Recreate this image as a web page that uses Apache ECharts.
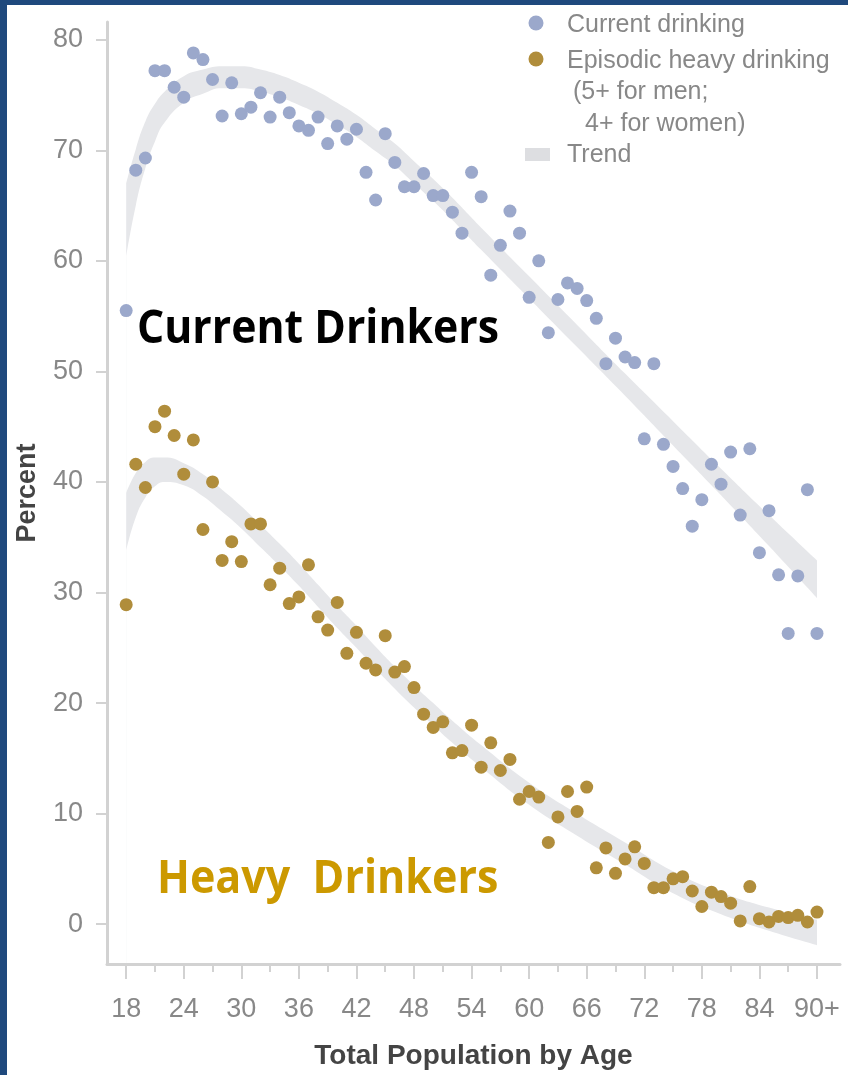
<!DOCTYPE html>
<html>
<head>
<meta charset="utf-8">
<title>Drinking by age</title>
<script src="https://cdn.jsdelivr.net/npm/echarts@6/dist/echarts.min.js"></script>
<style>
html, body { margin: 0; padding: 0; background: #fff; }
#chart { width: 848px; height: 1075px; }
</style>
</head>
<body>
<div id="chart"></div>
<script>
// ages 18 .. 90+ (90 shown as "90+")
var ages = [18,19,20,21,22,23,24,25,26,27,28,29,30,31,32,33,34,35,36,37,38,39,40,41,42,43,44,45,46,47,48,49,50,51,52,53,54,
    55,56,57,58,59,60,61,62,63,64,65,66,67,68,69,70,71,72,73,74,75,76,77,78,79,80,81,82,83,84,85,86,87,88,89,90];

// current drinking, percent
var currentDrinking = [55.5,68.2,69.3,77.2,77.2,75.7,74.8,78.8,78.2,76.4,73.1,76.1,73.3,73.9,75.2,73.0,74.8,73.4,72.2,71.8,
    73.0,70.6,72.2,71.0,71.9,68.0,65.5,71.5,68.9,66.7,66.7,67.9,65.9,65.9,64.4,62.5,68.0,65.8,58.7,61.4,64.5,62.5,56.7,60.0,
    53.5,56.5,58.0,57.5,56.4,54.8,50.7,53.0,51.3,50.8,43.9,50.7,43.4,41.4,39.4,36.0,38.4,41.6,39.8,42.7,37.0,43.0,33.6,37.4,
    31.6,26.3,31.5,39.3,26.3];

// episodic heavy drinking, percent
var heavyDrinking = [28.9,41.6,39.5,45.0,46.4,44.2,40.7,43.8,35.7,40.0,32.9,34.6,32.8,36.2,36.2,30.7,32.2,29.0,29.6,32.5,
    27.8,26.6,29.1,24.5,26.4,23.6,23.0,26.1,22.8,23.3,21.4,19.0,17.8,18.3,15.5,15.7,18.0,14.2,16.4,13.9,14.9,11.3,12.0,11.5,
    7.4,9.7,12.0,10.2,12.4,5.1,6.9,4.6,5.9,7.0,5.5,3.3,3.3,4.1,4.3,3.0,1.6,2.9,2.5,1.9,0.3,3.4,0.5,0.2,0.7,0.6,0.8,0.2,1.1];

// trend bands (lower / upper edge)
var trendAges = [18,19,20,21,22,24,26,28,30,32,34,36,38,40,42,44,46,48,50,52,55,60,65,70,75,80,85,90];
var currentTrendLow  = [60.4,65.0,68.4,70.8,72.5,74.3,75.1,75.6,75.6,75.3,74.8,74.1,73.3,72.3,71.2,69.9,68.6,67.0,65.4,63.7,
    61.0,56.6,52.2,47.8,43.3,38.8,34.2,29.5];
var currentTrendHigh = [67.0,70.1,72.6,74.2,75.3,76.7,77.3,77.6,77.6,77.3,76.8,76.1,75.3,74.3,73.2,71.9,70.6,69.0,67.4,65.7,
    63.0,58.6,54.2,49.8,45.5,41.2,37.0,32.9];
var heavyTrendLow  = [33.8,36.8,38.6,39.6,40.0,39.7,38.7,37.3,35.8,34.1,32.4,30.6,28.7,26.8,25.0,23.1,21.3,19.6,18.0,16.4,
    14.2,10.8,8.0,5.4,2.8,0.9,-0.6,-1.9];
var heavyTrendHigh = [39.0,40.8,41.8,42.2,42.2,41.7,40.7,39.3,37.8,36.1,34.4,32.6,30.7,28.8,27.0,25.1,23.3,21.6,20.0,18.4,
    16.2,12.8,10.0,7.4,4.8,2.9,1.5,0.4];

var xLabelValues = [18,24,30,36,42,48,54,60,66,72,78,84,90];
var xMinorTicks = [21,27,33,39,45,51,57,63,69,75,81,87];
var yLabelValues = [0,10,20,30,40,50,60,70,80];

var blue = '#9ba8cb', gold = '#b08d3b', band = '#e6e7ea';
var axisGray = '#d2d2d2', textGray = '#888';
var smallFont = 'Liberation Sans, Arial, sans-serif';

function pairs(xs, ys) {
    return xs.map(function (x, i) { return [x, ys[i]]; });
}
// band = grey area under the upper edge, then a white area under the lower edge
function bandSeries(lo, hi) {
    var common = { type: 'line', smooth: true, symbol: 'none', silent: true, z: 1,
                   lineStyle: { width: 0, opacity: 0 } };
    return [
        Object.assign({ data: pairs(trendAges, hi), areaStyle: { color: band, opacity: 1, origin: 'start' } }, common),
        Object.assign({ data: pairs(trendAges, lo), areaStyle: { color: '#fff', opacity: 1, origin: 'start' } }, common)
    ];
}

var chart = echarts.init(document.getElementById('chart'));
var legendText = { fontFamily: smallFont, fontSize: 25, fill: textGray, verticalAlign: 'middle' };

chart.setOption({
    animation: false,
    backgroundColor: '#fff',
    grid: { left: 107, right: 8, top: 22, bottom: 106 },
    xAxis: [{
        type: 'value', min: 16, max: 92.4, position: 'bottom', z: 10,
        name: 'Total Population by Age', nameLocation: 'middle', nameGap: 78,
        nameTextStyle: { fontFamily: smallFont, fontWeight: 'bold', fontSize: 28, color: '#444' },
        splitLine: { show: false },
        axisLine: { onZero: false, lineStyle: { color: axisGray, width: 3 } },
        axisTick: { customValues: xLabelValues, length: 15, lineStyle: { color: axisGray, width: 2 } },
        axisLabel: {
            customValues: xLabelValues, margin: 32, color: textGray, fontSize: 27, fontFamily: smallFont,
            formatter: function (v) { return v === 90 ? '90+' : String(v); }
        }
    }, {
        type: 'value', min: 16, max: 92.4, position: 'bottom', offset: 0, z: 10,
        splitLine: { show: false }, axisLine: { show: false, onZero: false }, axisLabel: { show: false },
        axisTick: { customValues: xMinorTicks, length: 8, lineStyle: { color: axisGray, width: 2 } }
    }],
    yAxis: {
        type: 'value', min: -3.6, max: 81.6, z: 10,
        name: 'Percent', nameLocation: 'middle', nameGap: 66, nameRotate: 90,
        nameTextStyle: { fontFamily: smallFont, fontWeight: 'bold', fontSize: 27, color: '#444' },
        splitLine: { show: false },
        axisLine: { show: true, onZero: false, lineStyle: { color: axisGray, width: 3 } },
        axisTick: { show: true, customValues: yLabelValues, length: 11, lineStyle: { color: axisGray, width: 2 } },
        axisLabel: { customValues: yLabelValues, margin: 24, color: textGray, fontSize: 27, fontFamily: smallFont }
    },
    series: bandSeries(currentTrendLow, currentTrendHigh)
        .concat(bandSeries(heavyTrendLow, heavyTrendHigh))
        .concat([{
            name: 'Current drinking', type: 'scatter', data: pairs(ages, currentDrinking),
            symbolSize: 13, itemStyle: { color: blue, opacity: 1 }, z: 3
        }, {
            name: 'Episodic heavy drinking', type: 'scatter', data: pairs(ages, heavyDrinking),
            symbolSize: 13, itemStyle: { color: gold, opacity: 1 }, z: 3
        }]),
    graphic: [
        // frame
        { type: 'rect', shape: { x: 0, y: 0, width: 848, height: 5 }, style: { fill: '#1f497d' }, z: 100 },
        { type: 'rect', shape: { x: 0, y: 0, width: 7, height: 1075 }, style: { fill: '#1f497d' }, z: 100 },
        // legend
        { type: 'circle', shape: { cx: 536, cy: 23, r: 7.5 }, style: { fill: blue } },
        { type: 'text', x: 567, y: 25, style: Object.assign({ text: 'Current drinking' }, legendText) },
        { type: 'circle', shape: { cx: 536, cy: 59, r: 7.5 }, style: { fill: gold } },
        { type: 'text', x: 567, y: 61, style: Object.assign({ text: 'Episodic heavy drinking' }, legendText) },
        { type: 'text', x: 573, y: 92, style: Object.assign({ text: '(5+ for men;' }, legendText) },
        { type: 'text', x: 585, y: 124, style: Object.assign({ text: '4+ for women)' }, legendText) },
        { type: 'rect', shape: { x: 525, y: 148, width: 25, height: 13 }, style: { fill: '#dddee1' } },
        { type: 'text', x: 567, y: 155, style: Object.assign({ text: 'Trend' }, legendText) },
        // annotations
        { type: 'text', x: 137, y: 330, scaleX: 0.91, z: 50,
          style: { text: 'Current Drinkers', fontFamily: 'Open Sans, Noto Sans, sans-serif', fontWeight: 'bold',
                   fontSize: 47, fill: '#000', verticalAlign: 'middle' } },
        { type: 'text', x: 157, y: 880, scaleX: 0.915, z: 50,
          style: { text: 'Heavy  Drinkers', fontFamily: 'Open Sans, Noto Sans, sans-serif', fontWeight: 'bold',
                   fontSize: 47, fill: '#cc9900', verticalAlign: 'middle' } }
    ]
});
</script>
</body>
</html>
